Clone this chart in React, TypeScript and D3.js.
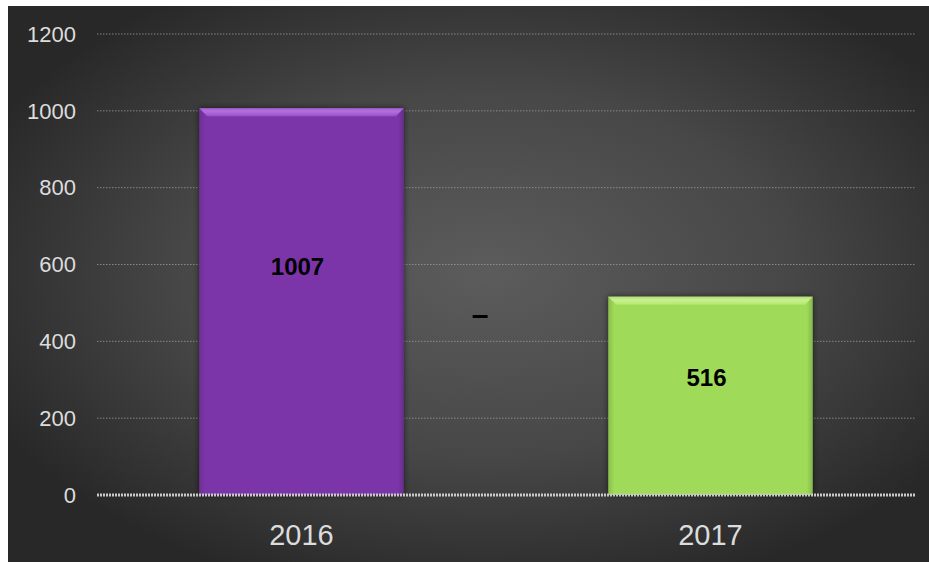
import React from "react";
import * as d3 from "d3";

const categories = ["2016", "2017"];
const values = [1007, 516];
const barColors = ["#7b36a9", "#9fdb58"];
const bevelColors = ["#b56ee0", "#c8f28c"];
const yTicks = [0, 200, 400, 600, 800, 1000, 1200];

export default function App() {
  const W = 929, H = 562;
  const left = 97, right = 915, top = 34, bottom = 495;
  const x = d3.scaleBand<string>().domain(categories).range([left, right]).paddingInner(0.5).paddingOuter(0.25);
  const y = d3.scaleLinear().domain([0, 1200]).range([bottom, top]);
  const bev = 8;
  return (
    <svg width={W} height={H} style={{ position: "absolute", left: 0, top: 0 }} fontFamily="Liberation Sans, Arial, sans-serif">
      <defs>
        <radialGradient id="bg" cx="0.52" cy="0.48" r="0.6" fx="0.52" fy="0.48">
          <stop offset="0" stopColor="#5c5c5c" />
          <stop offset="0.55" stopColor="#474747" />
          <stop offset="1" stopColor="#282828" />
        </radialGradient>
        <filter id="sh" x="-10%" y="-10%" width="120%" height="120%">
          <feGaussianBlur in="SourceAlpha" stdDeviation="3" />
          <feOffset dx="0" dy="0" result="b" />
          <feComponentTransfer><feFuncA type="linear" slope="0.6" /></feComponentTransfer>
          <feMerge><feMergeNode /><feMergeNode in="SourceGraphic" /></feMerge>
        </filter>
        {barColors.map((c, i) => (
          <linearGradient key={i} id={"bar" + i} x1="0" x2="1" y1="0" y2="0">
            <stop offset="0" stopColor={d3.color(c)!.darker(0.4).toString()} />
            <stop offset="0.03" stopColor={c} />
            <stop offset="0.97" stopColor={c} />
            <stop offset="1" stopColor={d3.color(c)!.darker(0.5).toString()} />
          </linearGradient>
        ))}
        {bevelColors.map((c, i) => (
          <linearGradient key={i} id={"bev" + i} x1="0" x2="0" y1="0" y2="1">
            <stop offset="0" stopColor={d3.color(c)!.darker(0.3).toString()} />
            <stop offset="0.4" stopColor={c} />
            <stop offset="1" stopColor={d3.interpolateRgb(c, barColors[i])(0.5)} />
          </linearGradient>
        ))}
      </defs>
      <rect x={8} y={6} width={W - 8} height={H - 6} fill="url(#bg)" />
      {yTicks.filter(t => t > 0).map(t => (
        <line key={t} x1={left} x2={right} y1={y(t)} y2={y(t)} stroke="#9a9a9a" strokeWidth={1} strokeDasharray="1.5 1.5" opacity={0.8} />
      ))}
      {values.map((v, i) => {
        const x0 = x(categories[i])!, bw = x.bandwidth();
        const y0 = y(v);
        return (
          <g key={i} filter="url(#sh)">
            <rect x={x0} y={y0} width={bw} height={bottom - y0} fill={`url(#bar${i})`} />
            <polygon points={`${x0},${y0} ${x0 + bw},${y0} ${x0 + bw - bev},${y0 + bev} ${x0 + bev},${y0 + bev}`} fill={`url(#bev${i})`} />
          </g>
        );
      })}
      <line x1={left} x2={right} y1={bottom} y2={bottom} stroke="#c8c8c8" strokeWidth={3} strokeDasharray="2 1" />
      {yTicks.map(t => (
        <text key={t} x={76} y={y(t)} dy="0.35em" textAnchor="end" fontSize={22} fill="#dcdcdc">{t}</text>
      ))}
      {categories.map(c => (
        <text key={c} x={x(c)! + x.bandwidth() / 2} y={535} dy="0.35em" textAnchor="middle" fontSize={29} fill="#dcdcdc">{c}</text>
      ))}
      {values.map((v, i) => (
        <text key={i} x={x(categories[i])! + x.bandwidth() / 2 - 4} y={y(v * 0.59)} dy="0.35em" textAnchor="middle" fontSize={24} fontWeight="bold" fill="#000">{v}</text>
      ))}
      <text x={(x(categories[0])! + x(categories[1])! + x.bandwidth()) / 2 - 26} y={y(470)} dy="0.35em" textAnchor="middle" fontSize={30} fontWeight="bold" fill="#000">–</text>
    </svg>
  );
}
